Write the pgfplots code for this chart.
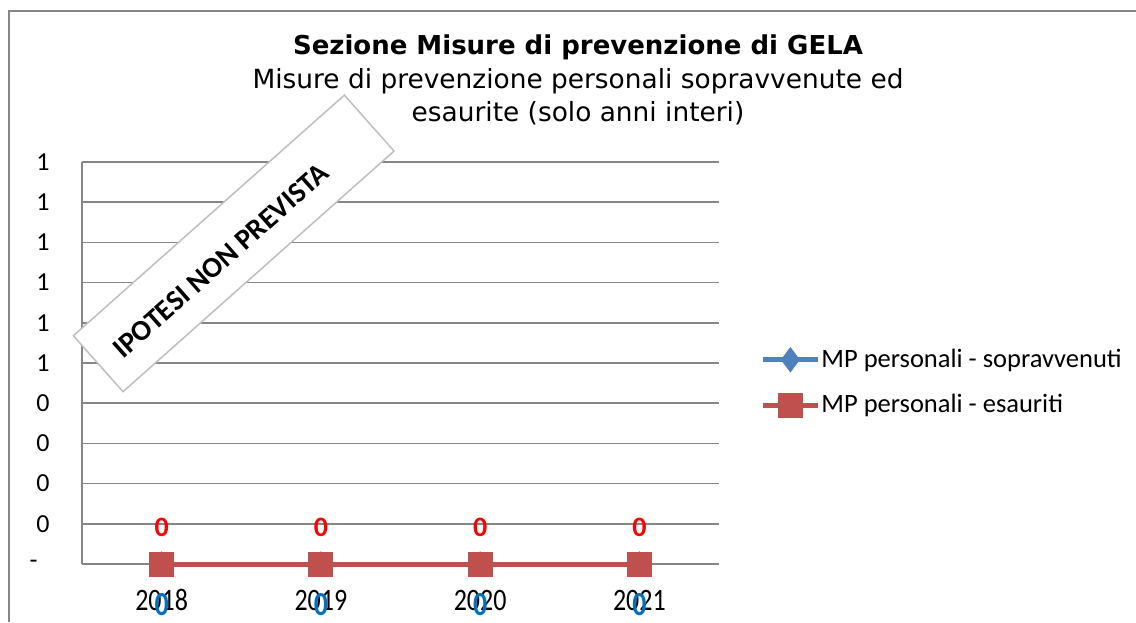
\documentclass[border=0pt]{standalone}
\usepackage{fontspec}
\setmainfont{Carlito}
\newfontfamily\titlefont{DejaVu Sans}
\usepackage{pgfplots}
\pgfplotsset{compat=1.18}

\definecolor{serblue}{HTML}{4F81BD}
\definecolor{serred}{HTML}{C0504D}
\definecolor{gridgray}{HTML}{868686}
\definecolor{boxgray}{HTML}{BFBFBF}
\definecolor{lblblue}{HTML}{0070C0}
\definecolor{lblred}{HTML}{FF0000}

\begin{document}
\begin{tikzpicture}[x=1pt,y=1pt]
\path[use as bounding box] (0,0) rectangle (568,311);
% chart area border (left and top only)
\draw[gridgray, line width=0.75pt] (4.5,0) -- (4.5,305.5) -- (568,305.5);

\begin{axis}[
  at={(41pt,29pt)}, anchor=south west,
  scale only axis, width=318.5pt, height=201pt,
  clip=false,
  xmin=-0.5, xmax=3.5, ymin=0, ymax=1,
  xtick={0,1,2,3},
  xticklabels={\scalebox{1}[1.2]{2018},\scalebox{1}[1.2]{2019},
    \scalebox{1}[1.2]{2020},\scalebox{1}[1.2]{2021}},
  ytick={0,0.1,0.2,0.3,0.4,0.5,0.6,0.7,0.8,0.9,1},
  yticklabels={{-\hspace*{6pt}},0,0,0,0,1,1,1,1,1,1},
  axis x line*=bottom, axis y line*=left,
  axis line style={gridgray, line width=0.75pt, -},
  ymajorgrids, grid style={gridgray, line width=0.75pt},
  major tick length=0pt,
  yticklabel style={anchor=east, inner sep=0pt, xshift=-16pt,
    font=\fontsize{13}{15}\selectfont},
  xticklabel style={anchor=center, inner sep=0pt, yshift=-18pt,
    font=\fontsize{13}{15}\selectfont},
  /pgf/number format/assume math mode=true,
  legend image code/.code={\draw[mark repeat=2,mark phase=2,#1]
    plot coordinates {(0pt,0pt)(13.75pt,0pt)(27.5pt,0pt)};},
  legend cell align=left,
  legend style={at={(1,0.4515)}, anchor=west, xshift=20.5pt,
    draw=none, fill=none, inner sep=0pt,
    nodes={inner sep=0.5pt},
    row sep=11pt,
    font=\fontsize{13.25}{15}\selectfont},
]
\addplot[serblue, line width=2.5pt, mark=diamond*, mark size=4.3pt,
  mark options={solid},
  nodes near coords={\scalebox{1}[1.2]{\pgfmathprintnumber{\pgfplotspointmeta}}},
  every node near coord/.append style={anchor=center, yshift=-20.5pt,
    text=lblblue, inner sep=0pt, font=\bfseries\fontsize{14}{16}\selectfont}]
  coordinates {(0,0)(1,0)(2,0)(3,0)};
\addlegendentry{MP personali - sopravvenuti}
\addplot[serred, line width=2.5pt, mark=square*, mark size=5pt,
  mark options={solid},
  nodes near coords,
  every node near coord/.append style={anchor=center, yshift=18.5pt,
    text=lblred, inner sep=0pt, font=\bfseries\fontsize{14}{16}\selectfont}]
  coordinates {(0,0)(1,0)(2,0)(3,0)};
\addlegendentry{MP personali - esauriti}
\end{axis}

% titles
\node[font=\titlefont\bfseries\fontsize{13}{16}\selectfont] at (289,287.5)
  {Sezione Misure di prevenzione di GELA};
\node[font=\titlefont\fontsize{13.2}{16.5}\selectfont, align=center] at (289,262.75)
  {Misure di prevenzione personali sopravvenute ed\\esaurite (solo anni interi)};

% rotated note box
\node[draw=boxgray, fill=white, line width=0.75pt, rotate=41.6,
  minimum width=181.2pt, minimum height=37.4pt, inner sep=0pt] at (116.85,189.3) {};
\node[rotate=41.6, inner sep=0pt, font=\bfseries\fontsize{14.5}{17}\selectfont]
  at (110.4,180.6) {IPOTESI NON PREVISTA};
\end{tikzpicture}
\end{document}
